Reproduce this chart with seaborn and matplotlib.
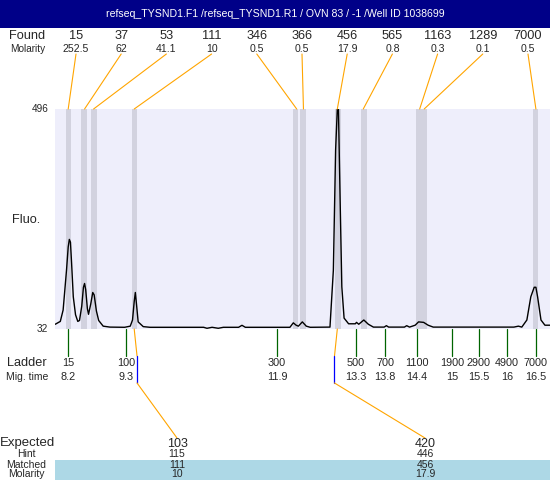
import matplotlib
matplotlib.use("Agg")
import matplotlib.pyplot as plt
import matplotlib.patches as mpatches
import pandas as pd
import numpy as np
import seaborn as sns

# Found peaks ------------------------------------------------------------------
found_size = ["15", "37", "53", "111", "346", "366", "456", "565", "1163", "1289", "7000"]
found_molarity = ["252.5", "62", "41.1", "10", "0.5", "0.5", "17.9", "0.8", "0.3", "0.1", "0.5"]
found_time = [8.20, 8.49, 8.65, 9.37, 12.25, 12.37, 12.97, 13.43, 14.43, 14.51, 16.49]
band_start = [8.16, 8.43, 8.60, 9.33, 12.18, 12.31, 12.93, 13.39, 14.37, 14.46, 16.44]
band_end = [8.25, 8.53, 8.71, 9.42, 12.28, 12.42, 13.04, 13.50, 14.46, 14.56, 16.53]

# Ladder ----------------------------------------------------------------------
ladder_size = ["15", "100", "300", "500", "700", "1100", "1900", "2900", "4900", "7000"]
ladder_time = [8.20, 9.23, 11.90, 13.30, 13.82, 14.38, 15.00, 15.48, 15.98, 16.49]
ladder_time_label = ["8.2", "9.3", "11.9", "13.3", "13.8", "14.4", "15", "15.5", "16", "16.5"]

# Expected fragments ------------------------------------------------------------
expected_size = ["103", "420"]
expected_hint = ["115", "446"]
expected_matched = ["111", "456"]
expected_molarity = ["10", "17.9"]
expected_peak = [3, 6]
expected_mark_time = [9.42, 12.92]

# Electropherogram trace ----------------------------------------------------------
trace_time = [7.97, 8.06, 8.11, 8.17, 8.20, 8.22, 8.24, 8.26, 8.29, 8.33, 8.37, 8.40,
              8.44, 8.47, 8.49, 8.51, 8.54, 8.56, 8.60, 8.635, 8.66, 8.70, 8.74, 8.82,
              8.94, 9.20, 9.30, 9.34, 9.37, 9.39, 9.41, 9.44, 9.53, 9.65, 10.60, 10.66,
              10.75, 10.86, 10.95, 11.22, 11.28, 11.34, 12.13, 12.19, 12.24, 12.28, 12.35,
              12.42, 12.49, 12.84, 12.90, 12.94, 12.97, 12.99, 13.02, 13.05, 13.09, 13.17,
              13.29, 13.31, 13.35, 13.44, 13.52, 13.61, 13.80, 13.84, 13.88, 14.16, 14.20,
              14.25, 14.35, 14.41, 14.50, 14.58, 14.67, 16.10, 16.18, 16.24, 16.33, 16.40,
              16.46, 16.49, 16.52, 16.58, 16.65, 16.74]
trace_fluo = [42, 48, 72, 156, 205, 221, 215, 171, 100, 62, 48, 50,
              80, 120, 128, 115, 75, 63, 85, 109, 104, 70, 50, 38,
              36, 35.6, 38, 51, 90, 109, 85, 47, 37, 35.6, 35.6, 33.5,
              35.6, 33.5, 35.6, 35.6, 39.8, 35.6, 35.6, 45, 40, 38, 47,
              38, 35.6, 36, 156, 410, 496, 496, 304, 121, 55, 43,
              43, 46, 42, 51, 42, 36, 36, 39, 36, 36, 39,
              36, 40, 47, 46, 40, 36, 36, 38, 36, 51, 100,
              120, 120, 100, 51, 40, 40]

sns.set_style("white")
plt.rcParams['font.family'] = ['Liberation Sans', 'DejaVu Sans']

W, H = 550, 480
fig = plt.figure(figsize=(W / 100, H / 100), dpi=100)

# main plot
ax = fig.add_axes([55 / W, 1 - 329 / H, 495 / W, 220 / H])
ax.set_facecolor('#EEEEFB')
for s, e in zip(band_start, band_end):
    ax.axvspan(s, e, color='#D2D2DF', lw=0)

trace = pd.DataFrame({'time': trace_time, 'fluo': trace_fluo})
sns.lineplot(data=trace, x='time', y='fluo', ax=ax, color='black', lw=1.0, sort=False)
ax.set_xlim(7.966, 16.74)
ax.set_ylim(32, 496)
ax.set_xticks([]); ax.set_yticks([])
ax.set_xlabel(''); ax.set_ylabel('')
for sp in ax.spines.values():
    sp.set_visible(False)

def px(t):
    return ax.transData.transform((t, 0))[0]

# overlay in pixel coords
ov = fig.add_axes([0, 0, 1, 1])
ov.set_xlim(0, W); ov.set_ylim(H, 0)
ov.axis('off')

ov.add_patch(mpatches.Rectangle((0, 0), W, 28, color='#000088', lw=0))
ov.text(275, 14, "refseq_TYSND1.F1 /refseq_TYSND1.R1 / OVN 83 / -1 /Well ID 1038699",
        color='white', fontsize=7.6, ha='center', va='center')

# found peaks header
ov.text(9, 36, "Found", fontsize=9.2, ha='left', va='center')
ov.text(28, 49, "Molarity", fontsize=7.2, ha='center', va='center')
label_x = np.linspace(76, 528, len(found_size))
for lx, size, mol, t in zip(label_x, found_size, found_molarity, found_time):
    ov.text(lx, 36, size, fontsize=9.2, ha='center', va='center')
    ov.text(lx, 49, mol, fontsize=7.6, ha='center', va='center')
    ov.plot([lx, px(t)], [54, 109], color='orange', lw=0.8)

# y labels
ov.text(49, 109, "496", fontsize=7.2, ha='right', va='center')
ov.text(48, 329, "32", fontsize=7.2, ha='right', va='center')
ov.text(12, 220, "Fluo.", fontsize=9.2, ha='left', va='center')

# ladder
ov.text(7, 363, "Ladder", fontsize=9.2, ha='left', va='center')
ov.text(6, 377, "Mig. time", fontsize=7.5, ha='left', va='center')
for size, t, tl in zip(ladder_size, ladder_time, ladder_time_label):
    x = px(t)
    ov.plot([x, x], [329, 356], color='#006400', lw=0.9)
    ov.text(x, 363, size, fontsize=7.8, ha='center', va='center')
    ov.text(x, 377, tl, fontsize=7.8, ha='center', va='center')

# expected table
ov.add_patch(mpatches.Rectangle((55, 460), 495, 20, color='#ADD8E6', lw=0))
ov.text(0, 443, "Expected", fontsize=9.5, ha='left', va='center')
ov.text(26, 454, "Hint", fontsize=7.5, ha='center', va='center')
ov.text(26, 465, "Matched", fontsize=7.5, ha='center', va='center')
ov.text(26, 474, "Molarity", fontsize=7.5, ha='center', va='center')
exp_x = [177, 425]
for ex, es, eh, em, emol, k, mt in zip(exp_x, expected_size, expected_hint, expected_matched,
                                      expected_molarity, expected_peak, expected_mark_time):
    x0 = px(found_time[k]); x1 = px(mt)
    ov.plot([x0, x1], [329, 356], color='orange', lw=0.8)
    ov.plot([x1, x1], [356, 383], color='blue', lw=0.9)
    ov.plot([x1, ex], [383, 438], color='orange', lw=0.8)
    ov.text(ex, 444, es, fontsize=9, ha='center', va='center')
    ov.text(ex, 454, eh, fontsize=7.5, ha='center', va='center')
    ov.text(ex, 465, em, fontsize=7.5, ha='center', va='center')
    ov.text(ex, 474, emol, fontsize=7.5, ha='center', va='center')

fig.savefig("out.png", dpi=100)
